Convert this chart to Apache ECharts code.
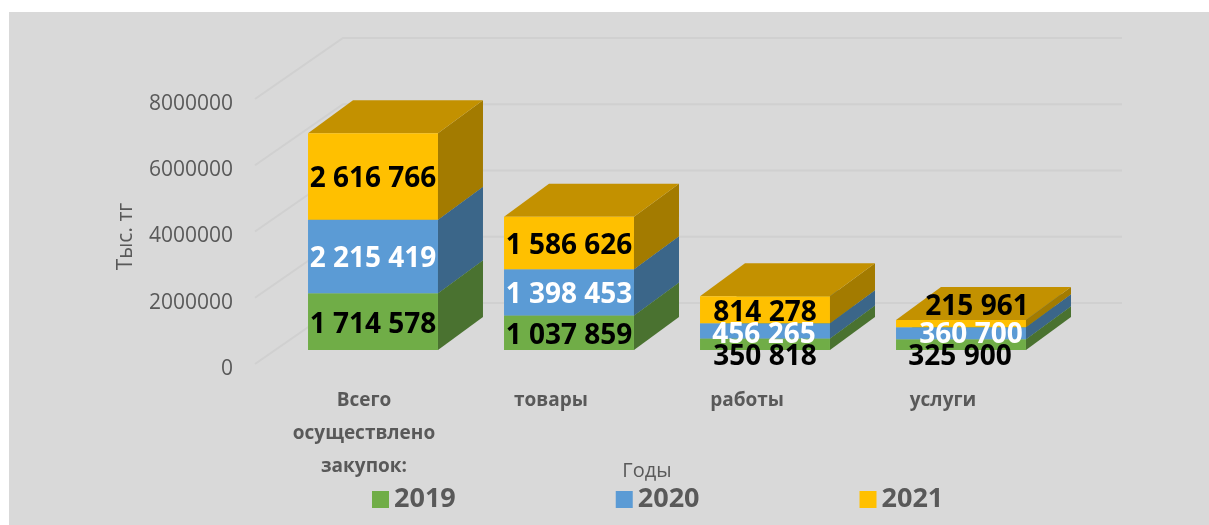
<!DOCTYPE html>
<html>
<head>
<meta charset="utf-8">
<script src="https://cdn.jsdelivr.net/npm/echarts@6/dist/echarts.min.js"></script>
<style>
html,body{margin:0;padding:0;background:#fff;}
#chart{width:1209px;height:525px;}
</style>
</head>
<body>
<div id="chart"></div>
<script>
// ---- data ----
const categories = ['Всего осуществлено закупок:', 'товары', 'работы', 'услуги'];
const years = ['2019', '2020', '2021'];
const values2019 = [1714578, 1037859, 350818, 325900];
const values2020 = [2215419, 1398453, 456265, 360700];
const values2021 = [2616766, 1586626, 814278, 215961];
const yTicks = [0, 2000000, 4000000, 6000000, 8000000];

// ---- styles ----
const frontColors = ['#70ad47', '#5b9bd5', '#ffc000'];
const topColors = ['#5a8a39', '#497cab', '#c39100'];
const sideColors = ['#4a7230', '#3b6689', '#a37b00'];
const labelColors = ['#000000', '#ffffff', '#000000'];
// pixel nudges of data labels (Excel moved some labels of thin segments)
const labelNudges = [
  [[0, 0], [0, 0], [0, 10], [-1, 9]],
  [[0, 0], [0, 0], [-1, 1], [10, -1]],
  [[0, 0], [0, 0], [0, 0], [16, -20]]
];
const DX = 45, DY = -33, FRONT_SHIFT = -19, BAR_RATIO = 0.663;

const allValues = [values2019, values2020, values2021];
function fmt(v) { return String(v).replace(/\B(?=(\d{3})+(?!\d))/g, ' '); }

const series = [];
// gridlines (side wall + back wall)
series.push({
  type: 'custom',
  name: 'grid',
  silent: true,
  z: 1,
  data: yTicks.map(v => [0, v]),
  encode: { x: 0, y: 1 },
  renderItem: function (params, api) {
    const v = api.value(1);
    const band = api.size([1, 0])[0];
    const c0 = api.coord([0, v]);
    const cN = api.coord([categories.length - 1, v]);
    const left = c0[0] - band / 2;
    const right = cN[0] + band / 2;
    const y = c0[1] - 5;
    return {
      type: 'polyline',
      shape: { points: [[left - 20, y], [left + 68, y - 61], [right + 63, y - 61]] },
      style: { stroke: '#d0d0d0', lineWidth: 2, fill: null }
    };
  }
});

years.forEach((yr, s) => {
  const data = categories.map((c, i) => {
    let base = 0;
    for (let k = 0; k < s; k++) base += allValues[k][i];
    return [i, allValues[s][i], base];
  });
  series.push({
    type: 'custom',
    name: yr,
    z: 2,
    itemStyle: { color: frontColors[s] },
    data: data,
    encode: { x: 0, y: 1 },
    renderItem: function (params, api) {
      const i = api.value(0), v = api.value(1), b = api.value(2);
      const p0 = api.coord([i, b]);
      const p1 = api.coord([i, b + v]);
      const bw = api.size([1, 0])[0] * BAR_RATIO;
      const x0 = p0[0] - bw / 2, x1 = p0[0] + bw / 2;
      const yb = p0[1] + FRONT_SHIFT, yt = p1[1] + FRONT_SHIFT;
      const nudge = labelNudges[s][i];
      return {
        type: 'group',
        children: [
          { type: 'polygon', z2: 1,
            shape: { points: [[x1, yb], [x1 + DX, yb + DY], [x1 + DX, yt + DY], [x1, yt]] },
            style: { fill: sideColors[s] } },
          { type: 'polygon', z2: 1,
            shape: { points: [[x0, yt], [x0 + DX, yt + DY], [x1 + DX, yt + DY], [x1, yt]] },
            style: { fill: topColors[s] } },
          { type: 'rect', z2: 2,
            shape: { x: x0, y: yt, width: bw, height: yb - yt },
            style: { fill: frontColors[s] } },
          { type: 'text', z2: 100,
            style: {
              x: p0[0] + nudge[0], y: (yb + yt) / 2 + nudge[1] + 3,
              text: fmt(v), fill: labelColors[s],
              font: 'bold 28px "Open Sans"', align: 'center', verticalAlign: 'middle'
            } }
        ]
      };
    }
  });
});

const chart = echarts.init(document.getElementById('chart'));
chart.setOption({
  animation: false,
  backgroundColor: '#ffffff',
  textStyle: { fontFamily: '"Open Sans", sans-serif' },
  graphic: [{
    type: 'rect', silent: true, z: -10,
    shape: { x: 9, y: 12, width: 1200, height: 513 },
    style: { fill: '#d9d9d9' }
  }],
  grid: { left: 275, right: 150, top: 104, bottom: 156, containLabel: false },
  xAxis: {
    type: 'category',
    data: categories,
    name: 'Годы',
    nameLocation: 'middle',
    nameGap: 92,
    nameMoveOverlap: false,
    nameTextStyle: { color: '#595959', fontSize: 20, padding: [0, 40, 0, 0] },
    axisLine: { show: false },
    axisTick: { show: false },
    splitLine: { show: false },
    axisLabel: {
      interval: 0,
      color: '#595959', fontWeight: 'bold', fontSize: 19, lineHeight: 33,
      margin: 15, padding: [0, 36, 0, 0],
      formatter: function (v, idx) {
        const lines = v.split(' ');
        if (idx === 0) return lines.map(l => '{f|' + l + '}').join('\n');
        return lines.join('\n');
      },
      rich: {
        f: { color: '#595959', fontWeight: 'bold', fontSize: 19, lineHeight: 33, padding: [0, 0, 0, 18] }
      }
    }
  },
  yAxis: {
    type: 'value',
    min: 0, max: 8000000, interval: 2000000,
    name: 'Тыс. тг',
    nameLocation: 'middle',
    nameRotate: 90,
    nameGap: 138,
    nameMoveOverlap: false,
    nameTextStyle: { color: '#595959', fontSize: 21 },
    axisLine: { show: false },
    axisTick: { show: false },
    splitLine: { show: false },
    axisLabel: { color: '#595959', fontSize: 21, margin: 42, formatter: v => String(v) }
  },
  legend: {
    data: years,
    left: 367, top: 481,
    icon: 'rect', itemWidth: 17, itemHeight: 17, itemGap: 160,
    textStyle: { color: '#595959', fontWeight: 'bold', fontSize: 27 },
    selectedMode: false
  },
  series: series
});
</script>
</body>
</html>
